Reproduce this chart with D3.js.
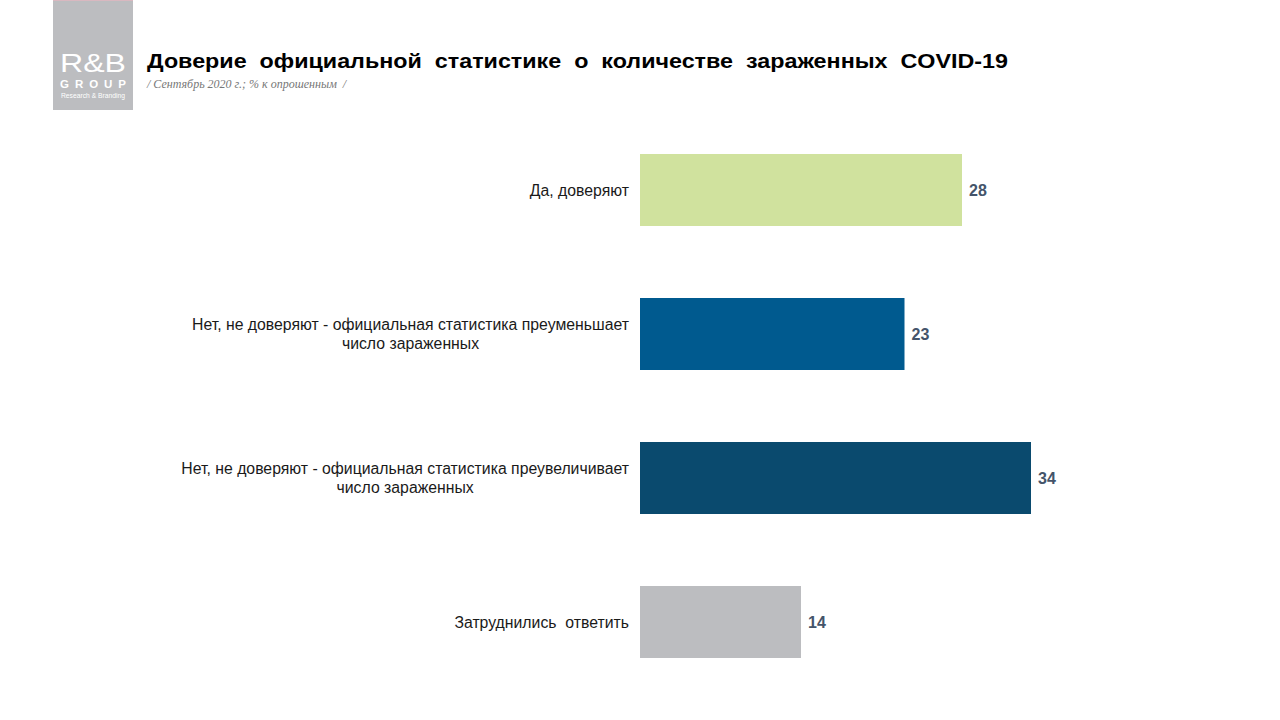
<!DOCTYPE html>
<html><head><meta charset="utf-8">
<script src="https://cdn.jsdelivr.net/npm/d3@7"></script>
<style>body{margin:0;background:#fff}svg{display:block}</style>
</head><body>
<svg id="c" width="1280" height="720"></svg>
<script>
const categories = [
  ["Да, доверяют"],
  ["Нет, не доверяют - официальная статистика преуменьшает", "число зараженных"],
  ["Нет, не доверяют - официальная статистика преувеличивает", "число зараженных"],
  ["Затруднились  ответить"]
];
const values = [28, 23, 34, 14];
const colors = ["#d0e29e", "#005a8f", "#0a4a6e", "#bcbdc0"];
const titleText = "Доверие  официальной  статистике  о  количестве  зараженных  COVID-19";
const subtitleText = "/ Сентябрь 2020 г.; % к опрошенным  /";

const svg = d3.select("#c");
// logo
const logo = svg.append("g").attr("font-family","Liberation Sans, Arial").attr("fill","#fff");
logo.append("rect").attr("x",53).attr("y",0).attr("width",80).attr("height",110).attr("fill","#bcbdc0");
logo.append("rect").attr("x",53).attr("y",0).attr("width",80).attr("height",1).attr("fill","#d9b8c0");
logo.append("text").attr("x",93).attr("y",72).attr("text-anchor","middle")
  .attr("font-size",26).attr("textLength",66).attr("lengthAdjust","spacingAndGlyphs").text("R&B");
logo.append("text").attr("x",93).attr("y",88).attr("text-anchor","middle")
  .attr("font-weight","bold").attr("font-size",11.5).attr("textLength",66).attr("lengthAdjust","spacing").text("GROUP");
logo.append("text").attr("x",93).attr("y",98).attr("text-anchor","middle")
  .attr("font-size",7).attr("textLength",64).attr("lengthAdjust","spacingAndGlyphs").text("Research & Branding");

svg.append("text").attr("x",147).attr("y",68).attr("font-family","Liberation Sans, Arial")
  .attr("font-weight","bold").attr("font-size",21).attr("fill","#000").style("white-space","pre")
  .attr("textLength",861).attr("lengthAdjust","spacingAndGlyphs").text(titleText);
svg.append("text").attr("x",147).attr("y",88).attr("font-family","Liberation Serif, Times New Roman")
  .attr("font-style","italic").attr("font-size",12).attr("fill","#777").style("white-space","pre").text(subtitleText);

const x = d3.scaleLinear().domain([0, 34]).range([640, 1031]);
const y = d3.scaleBand().domain(d3.range(values.length)).range([118, 694]).paddingInner(0.5).paddingOuter(0.25);

svg.append("g").selectAll("rect").data(values).join("rect")
  .attr("x", x(0)).attr("y", (d,i)=>y(i)).attr("width", d=>x(d)-x(0)).attr("height", y.bandwidth())
  .attr("fill", (d,i)=>colors[i]);

svg.append("g").selectAll("text").data(values).join("text")
  .attr("x", d=>x(d)+7).attr("y", (d,i)=>y(i)+y.bandwidth()/2).attr("dy","0.35em")
  .attr("font-family","Liberation Sans, Arial").attr("font-weight","bold").attr("font-size",16)
  .attr("fill","#44546a").text(d=>d);

const lab = svg.append("g").attr("font-family","Liberation Sans, Arial").attr("font-size",15.8).attr("fill","#1a1a1a");
categories.forEach((lines,i)=>{
  const cy = y(i)+y.bandwidth()/2;
  const lh = 19;
  const top = cy - (lines.length-1)*lh/2;
  const t0 = lab.append("text").attr("x",629).attr("y",top).attr("dy","0.35em").attr("text-anchor","end")
    .style("white-space","pre").text(lines[0]);
  const w = t0.node().getComputedTextLength();
  const mid = 629 - w/2;
  for (let k=1;k<lines.length;k++){
    lab.append("text").attr("x",mid).attr("y",top+k*lh).attr("dy","0.35em").attr("text-anchor","middle")
      .style("white-space","pre").text(lines[k]);
  }
});
</script>
</body></html>
